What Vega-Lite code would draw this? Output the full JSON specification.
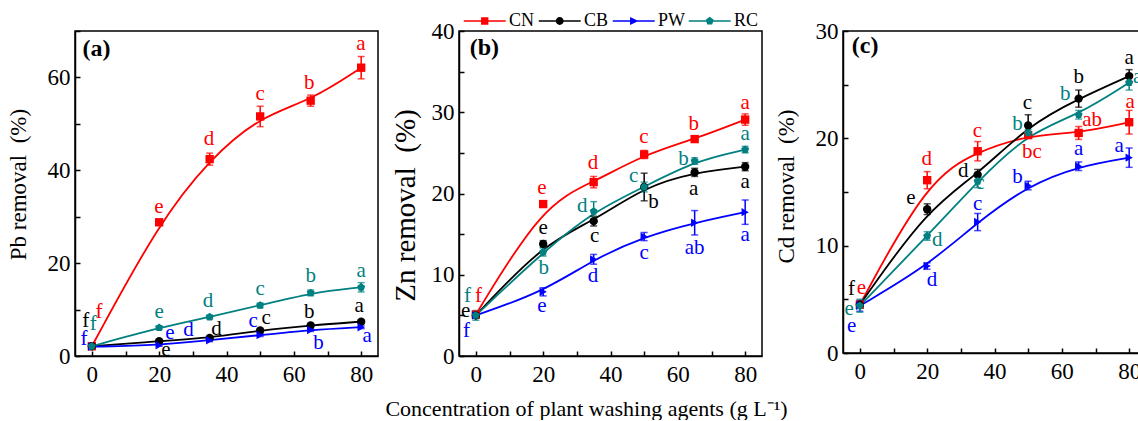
{
  "$schema": "https://vega.github.io/schema/vega-lite/v6.json",
  "padding": {"left": 6, "top": 11, "right": 0, "bottom": 0},
  "background": "white",
  "title": {"text": "Concentration of plant washing agents (g L⁻¹)", "orient": "bottom", "anchor": "middle", "font": "Liberation Serif", "fontSize": 22, "fontWeight": "normal", "color": "black", "offset": 12, "dx": 10},
  "datasets": {
    "pts": [
      {"panel": "a", "series": "CN", "conc": 0, "val": 2.1, "err": 0.3},
      {"panel": "a", "series": "CN", "conc": 20, "val": 28.8, "err": 0.6},
      {"panel": "a", "series": "CN", "conc": 35, "val": 42.4, "err": 1.3},
      {"panel": "a", "series": "CN", "conc": 50, "val": 51.6, "err": 2.2},
      {"panel": "a", "series": "CN", "conc": 65, "val": 55.0, "err": 1.2},
      {"panel": "a", "series": "CN", "conc": 80, "val": 62.1, "err": 2.4},
      {"panel": "a", "series": "CB", "conc": 0, "val": 2.1, "err": 0.2},
      {"panel": "a", "series": "CB", "conc": 20, "val": 3.2, "err": 0.3},
      {"panel": "a", "series": "CB", "conc": 35, "val": 3.9, "err": 0.3},
      {"panel": "a", "series": "CB", "conc": 50, "val": 5.5, "err": 0.3},
      {"panel": "a", "series": "CB", "conc": 65, "val": 6.6, "err": 0.4},
      {"panel": "a", "series": "CB", "conc": 80, "val": 7.4, "err": 0.4},
      {"panel": "a", "series": "PW", "conc": 0, "val": 2.0, "err": 0.2},
      {"panel": "a", "series": "PW", "conc": 20, "val": 2.3, "err": 0.2},
      {"panel": "a", "series": "PW", "conc": 35, "val": 3.4, "err": 0.3},
      {"panel": "a", "series": "PW", "conc": 50, "val": 4.5, "err": 0.3},
      {"panel": "a", "series": "PW", "conc": 65, "val": 5.6, "err": 0.3},
      {"panel": "a", "series": "PW", "conc": 80, "val": 6.2, "err": 0.3},
      {"panel": "a", "series": "RC", "conc": 0, "val": 2.1, "err": 0.3},
      {"panel": "a", "series": "RC", "conc": 20, "val": 6.1, "err": 0.4},
      {"panel": "a", "series": "RC", "conc": 35, "val": 8.4, "err": 0.4},
      {"panel": "a", "series": "RC", "conc": 50, "val": 10.9, "err": 0.5},
      {"panel": "a", "series": "RC", "conc": 65, "val": 13.6, "err": 0.6},
      {"panel": "a", "series": "RC", "conc": 80, "val": 14.8, "err": 1.0},
      {"panel": "b", "series": "CN", "conc": 0, "val": 5.1, "err": 0.3},
      {"panel": "b", "series": "CN", "conc": 20, "val": 18.7, "err": 0.4},
      {"panel": "b", "series": "CN", "conc": 35, "val": 21.4, "err": 0.7},
      {"panel": "b", "series": "CN", "conc": 50, "val": 24.8, "err": 0.5},
      {"panel": "b", "series": "CN", "conc": 65, "val": 26.7, "err": 0.4},
      {"panel": "b", "series": "CN", "conc": 80, "val": 29.1, "err": 0.7},
      {"panel": "b", "series": "CB", "conc": 0, "val": 5.0, "err": 0.3},
      {"panel": "b", "series": "CB", "conc": 20, "val": 13.8, "err": 0.4},
      {"panel": "b", "series": "CB", "conc": 35, "val": 16.6, "err": 0.6},
      {"panel": "b", "series": "CB", "conc": 50, "val": 20.8, "err": 1.7},
      {"panel": "b", "series": "CB", "conc": 65, "val": 22.6, "err": 0.5},
      {"panel": "b", "series": "CB", "conc": 80, "val": 23.3, "err": 0.5},
      {"panel": "b", "series": "PW", "conc": 0, "val": 5.0, "err": 0.3},
      {"panel": "b", "series": "PW", "conc": 20, "val": 7.9, "err": 0.5},
      {"panel": "b", "series": "PW", "conc": 35, "val": 11.9, "err": 0.6},
      {"panel": "b", "series": "PW", "conc": 50, "val": 14.7, "err": 0.5},
      {"panel": "b", "series": "PW", "conc": 65, "val": 16.4, "err": 1.5},
      {"panel": "b", "series": "PW", "conc": 80, "val": 17.7, "err": 1.5},
      {"panel": "b", "series": "RC", "conc": 0, "val": 5.0, "err": 0.6},
      {"panel": "b", "series": "RC", "conc": 20, "val": 12.8, "err": 0.5},
      {"panel": "b", "series": "RC", "conc": 35, "val": 17.8, "err": 1.2},
      {"panel": "b", "series": "RC", "conc": 50, "val": 20.8, "err": 0.6},
      {"panel": "b", "series": "RC", "conc": 65, "val": 24.0, "err": 0.4},
      {"panel": "b", "series": "RC", "conc": 80, "val": 25.4, "err": 0.4},
      {"panel": "c", "series": "CN", "conc": 0, "val": 4.5, "err": 0.3},
      {"panel": "c", "series": "CN", "conc": 20, "val": 16.1, "err": 0.8},
      {"panel": "c", "series": "CN", "conc": 35, "val": 18.8, "err": 0.9},
      {"panel": "c", "series": "CN", "conc": 50, "val": 20.3, "err": 0.3},
      {"panel": "c", "series": "CN", "conc": 65, "val": 20.5, "err": 0.6},
      {"panel": "c", "series": "CN", "conc": 80, "val": 21.5, "err": 1.1},
      {"panel": "c", "series": "CB", "conc": 0, "val": 4.5, "err": 0.3},
      {"panel": "c", "series": "CB", "conc": 20, "val": 13.4, "err": 0.5},
      {"panel": "c", "series": "CB", "conc": 35, "val": 16.6, "err": 0.5},
      {"panel": "c", "series": "CB", "conc": 50, "val": 21.2, "err": 1.0},
      {"panel": "c", "series": "CB", "conc": 65, "val": 23.7, "err": 0.8},
      {"panel": "c", "series": "CB", "conc": 80, "val": 25.8, "err": 0.6},
      {"panel": "c", "series": "PW", "conc": 0, "val": 4.4, "err": 0.5},
      {"panel": "c", "series": "PW", "conc": 20, "val": 8.1, "err": 0.3},
      {"panel": "c", "series": "PW", "conc": 35, "val": 12.2, "err": 0.8},
      {"panel": "c", "series": "PW", "conc": 50, "val": 15.6, "err": 0.4},
      {"panel": "c", "series": "PW", "conc": 65, "val": 17.4, "err": 0.4},
      {"panel": "c", "series": "PW", "conc": 80, "val": 18.2, "err": 0.9},
      {"panel": "c", "series": "RC", "conc": 0, "val": 4.4, "err": 0.6},
      {"panel": "c", "series": "RC", "conc": 20, "val": 10.9, "err": 0.4},
      {"panel": "c", "series": "RC", "conc": 35, "val": 16.0, "err": 0.6},
      {"panel": "c", "series": "RC", "conc": 50, "val": 20.5, "err": 0.3},
      {"panel": "c", "series": "RC", "conc": 65, "val": 22.2, "err": 0.4},
      {"panel": "c", "series": "RC", "conc": 80, "val": 25.2, "err": 0.7}
    ],
    "lbl": [
      {"panel": "a", "series": "CN", "conc": 2.1, "val": 9.4, "t": "f"},
      {"panel": "a", "series": "CN", "conc": 19.9, "val": 32.0, "t": "e"},
      {"panel": "a", "series": "CN", "conc": 34.8, "val": 46.7, "t": "d"},
      {"panel": "a", "series": "CN", "conc": 50.0, "val": 56.4, "t": "c"},
      {"panel": "a", "series": "CN", "conc": 64.6, "val": 58.9, "t": "b"},
      {"panel": "a", "series": "CN", "conc": 79.9, "val": 67.2, "t": "a"},
      {"panel": "a", "series": "RC", "conc": 0.4, "val": 6.9, "t": "f"},
      {"panel": "a", "series": "RC", "conc": 20.0, "val": 9.4, "t": "e"},
      {"panel": "a", "series": "RC", "conc": 34.5, "val": 11.9, "t": "d"},
      {"panel": "a", "series": "RC", "conc": 50.0, "val": 14.4, "t": "c"},
      {"panel": "a", "series": "RC", "conc": 65.0, "val": 17.3, "t": "b"},
      {"panel": "a", "series": "RC", "conc": 80.0, "val": 18.4, "t": "a"},
      {"panel": "a", "series": "CB", "conc": -1.8, "val": 7.6, "t": "f"},
      {"panel": "a", "series": "CB", "conc": 22.0, "val": 1.2, "t": "e"},
      {"panel": "a", "series": "CB", "conc": 37.0, "val": 5.8, "t": "d"},
      {"panel": "a", "series": "CB", "conc": 51.8, "val": 8.1, "t": "c"},
      {"panel": "a", "series": "CB", "conc": 64.6, "val": 9.4, "t": "b"},
      {"panel": "a", "series": "CB", "conc": 79.4, "val": 10.8, "t": "a"},
      {"panel": "a", "series": "PW", "conc": -2.3, "val": 3.7, "t": "f"},
      {"panel": "a", "series": "PW", "conc": 23.2, "val": 5.0, "t": "e"},
      {"panel": "a", "series": "PW", "conc": 28.7, "val": 5.5, "t": "d"},
      {"panel": "a", "series": "PW", "conc": 47.9, "val": 7.6, "t": "c"},
      {"panel": "a", "series": "PW", "conc": 67.3, "val": 2.9, "t": "b"},
      {"panel": "a", "series": "PW", "conc": 81.8, "val": 4.4, "t": "a"},
      {"panel": "b", "series": "CN", "conc": 0.8, "val": 7.4, "t": "f"},
      {"panel": "b", "series": "CN", "conc": 19.6, "val": 20.7, "t": "e"},
      {"panel": "b", "series": "CN", "conc": 34.8, "val": 23.8, "t": "d"},
      {"panel": "b", "series": "CN", "conc": 49.9, "val": 26.9, "t": "c"},
      {"panel": "b", "series": "CN", "conc": 64.7, "val": 28.5, "t": "b"},
      {"panel": "b", "series": "CN", "conc": 80.0, "val": 31.1, "t": "a"},
      {"panel": "b", "series": "RC", "conc": -2.5, "val": 7.4, "t": "f"},
      {"panel": "b", "series": "RC", "conc": 20.2, "val": 10.8, "t": "b"},
      {"panel": "b", "series": "RC", "conc": 31.6, "val": 18.5, "t": "d"},
      {"panel": "b", "series": "RC", "conc": 46.9, "val": 22.2, "t": "c"},
      {"panel": "b", "series": "RC", "conc": 61.7, "val": 24.2, "t": "b"},
      {"panel": "b", "series": "RC", "conc": 80.0, "val": 27.3, "t": "a"},
      {"panel": "b", "series": "CB", "conc": -3.0, "val": 5.5, "t": "e"},
      {"panel": "b", "series": "CB", "conc": 20.0, "val": 15.8, "t": "e"},
      {"panel": "b", "series": "CB", "conc": 35.3, "val": 14.8, "t": "c"},
      {"panel": "b", "series": "CB", "conc": 52.8, "val": 18.9, "t": "b"},
      {"panel": "b", "series": "CB", "conc": 64.7, "val": 20.5, "t": "a"},
      {"panel": "b", "series": "CB", "conc": 80.0, "val": 21.4, "t": "a"},
      {"panel": "b", "series": "PW", "conc": -2.8, "val": 3.1, "t": "f"},
      {"panel": "b", "series": "PW", "conc": 19.6, "val": 6.2, "t": "e"},
      {"panel": "b", "series": "PW", "conc": 34.8, "val": 9.8, "t": "d"},
      {"panel": "b", "series": "PW", "conc": 50.0, "val": 12.7, "t": "c"},
      {"panel": "b", "series": "PW", "conc": 65.0, "val": 13.3, "t": "ab"},
      {"panel": "b", "series": "PW", "conc": 80.0, "val": 14.9, "t": "a"},
      {"panel": "c", "series": "CN", "conc": 0.5, "val": 6.1, "t": "e"},
      {"panel": "c", "series": "CN", "conc": 19.9, "val": 18.1, "t": "d"},
      {"panel": "c", "series": "CN", "conc": 34.9, "val": 20.7, "t": "c"},
      {"panel": "c", "series": "CN", "conc": 51.1, "val": 18.7, "t": "bc"},
      {"panel": "c", "series": "CN", "conc": 69.0, "val": 21.7, "t": "ab"},
      {"panel": "c", "series": "CN", "conc": 80.3, "val": 23.4, "t": "a"},
      {"panel": "c", "series": "CB", "conc": -2.5, "val": 6.0, "t": "f"},
      {"panel": "c", "series": "CB", "conc": 15.2, "val": 14.4, "t": "e"},
      {"panel": "c", "series": "CB", "conc": 30.7, "val": 17.0, "t": "d"},
      {"panel": "c", "series": "CB", "conc": 49.8, "val": 23.3, "t": "c"},
      {"panel": "c", "series": "CB", "conc": 65.0, "val": 25.7, "t": "b"},
      {"panel": "c", "series": "CB", "conc": 80.0, "val": 27.5, "t": "a"},
      {"panel": "c", "series": "RC", "conc": -3.2, "val": 4.1, "t": "e"},
      {"panel": "c", "series": "RC", "conc": 23.0, "val": 10.5, "t": "d"},
      {"panel": "c", "series": "RC", "conc": 35.7, "val": 15.8, "t": "c"},
      {"panel": "c", "series": "RC", "conc": 46.8, "val": 21.3, "t": "b"},
      {"panel": "c", "series": "RC", "conc": 61.0, "val": 24.1, "t": "b"},
      {"panel": "c", "series": "RC", "conc": 82.5, "val": 25.7, "t": "a"},
      {"panel": "c", "series": "PW", "conc": -2.4, "val": 2.5, "t": "e"},
      {"panel": "c", "series": "PW", "conc": 21.4, "val": 6.8, "t": "d"},
      {"panel": "c", "series": "PW", "conc": 35.0, "val": 13.9, "t": "c"},
      {"panel": "c", "series": "PW", "conc": 46.8, "val": 16.4, "t": "b"},
      {"panel": "c", "series": "PW", "conc": 65.0, "val": 19.0, "t": "a"},
      {"panel": "c", "series": "PW", "conc": 77.0, "val": 19.3, "t": "a"}
    ]
  },
  "spacing": 81,
  "bounds": "flush",
  "resolve": {"scale": {"y": "independent", "x": "independent", "color": "independent", "shape": "independent"}, "legend": {"color": "independent", "shape": "independent"}},
  "hconcat": [
    {
      "width": 303, "height": 325,
      "encoding": {
        "x": {"field": "conc", "type": "quantitative", "scale": {"domain": [-5, 85], "nice": false, "zero": false}, "axis": {"title": null, "values": [0, 10, 20, 30, 40, 50, 60, 70, 80], "labelExpr": "datum.value % 20 === 0 ? datum.label : ''", "labelPadding": 12}},
        "y": {"field": "val", "type": "quantitative", "scale": {"domain": [0, 70], "nice": false}, "axis": {"title": "Pb removal \u00a0(%)", "titleFontSize": 23, "titleY": 153, "values": [0, 10, 20, 30, 40, 50, 60, 70], "labelExpr": "datum.value % 20 === 0 ? datum.label : ''"}},
        "color": {"field": "series", "type": "nominal", "scale": {"domain": ["CN", "CB", "PW", "RC"], "range": ["#ff0000", "#000000", "#0000ff", "#008080"]}, "legend": null}
      },
      "layer": [
        {"data": {"name": "pts"}, "transform": [{"filter": "datum.panel === 'a'"}], "mark": {"type": "line", "interpolate": "basis", "strokeWidth": 1.8}},
        {"data": {"name": "pts"}, "transform": [{"filter": "datum.panel === 'a'"}], "mark": {"type": "errorbar", "ticks": true, "size": 7, "thickness": 1.5}, "encoding": {"yError": {"field": "err"}}},
        {"data": {"name": "pts"}, "transform": [{"filter": "datum.panel === 'a'"}], "mark": {"type": "point", "filled": true, "opacity": 1, "size": 70}, "encoding": {"shape": {"field": "series", "type": "nominal", "scale": {"domain": ["CN", "CB", "PW", "RC"], "range": ["square", "circle", "triangle-right", "M0,-1L0.951,-0.309L0.588,0.809L-0.588,0.809L-0.951,-0.309Z"]}, "legend": null}}},
        {"data": {"name": "lbl"}, "transform": [{"filter": "datum.panel === 'a'"}], "mark": {"type": "text", "font": "Liberation Serif", "fontSize": 21, "baseline": "middle", "align": "center"}, "encoding": {"text": {"field": "t"}}},
        {"data": {"values": [{"conc": -2.8, "val": 66.1, "t": "(a)"}]}, "mark": {"type": "text", "font": "Liberation Serif", "fontSize": 24, "fontWeight": "bold", "baseline": "middle", "align": "left"}, "encoding": {"text": {"field": "t"}, "color": {"value": "black"}}}
      ]
    },
    {
      "width": 303, "height": 325,
      "encoding": {
        "x": {"field": "conc", "type": "quantitative", "scale": {"domain": [-5, 85], "nice": false, "zero": false}, "axis": {"title": null, "values": [0, 10, 20, 30, 40, 50, 60, 70, 80], "labelExpr": "datum.value % 20 === 0 ? datum.label : ''", "labelPadding": 12}},
        "y": {"field": "val", "type": "quantitative", "scale": {"domain": [0, 40], "nice": false}, "axis": {"title": "Zn removal \u00a0(%)", "titleFontSize": 29, "titlePadding": 11, "titleY": 174, "values": [0, 5, 10, 15, 20, 25, 30, 35, 40], "labelExpr": "datum.value % 10 === 0 ? datum.label : ''"}},
        "color": {"field": "series", "type": "nominal", "scale": {"domain": ["CN", "CB", "PW", "RC"], "range": ["#ff0000", "#000000", "#0000ff", "#008080"]}, "legend": null}
      },
      "resolve": {"scale": {"shape": "independent", "color": "independent"}},
      "layer": [
        {"data": {"name": "pts"}, "transform": [{"filter": "datum.panel === 'b'"}], "mark": {"type": "line", "interpolate": "basis", "strokeWidth": 1.8}},
        {"data": {"name": "pts"}, "transform": [{"filter": "datum.panel === 'b'"}], "mark": {"type": "errorbar", "ticks": true, "size": 7, "thickness": 1.5}, "encoding": {"yError": {"field": "err"}}},
        {"data": {"name": "pts"}, "transform": [{"filter": "datum.panel === 'b'"}], "mark": {"type": "point", "filled": true, "opacity": 1, "size": 70}, "encoding": {"shape": {"field": "series", "type": "nominal", "scale": {"domain": ["CN", "CB", "PW", "RC"], "range": ["square", "circle", "triangle-right", "M0,-1L0.951,-0.309L0.588,0.809L-0.588,0.809L-0.951,-0.309Z"]}, "legend": null}}},
        {"data": {"name": "pts"}, "transform": [{"filter": "datum.panel === 'b' && datum.conc < 0"}], "mark": {"type": "point", "filled": true, "opacity": 1, "size": 110},
         "encoding": {
           "color": {"field": "series", "type": "nominal", "scale": {"domain": ["CN", "CB", "PW", "RC"], "range": ["#ff0000", "#000000", "#0000ff", "#008080"]},
             "legend": {"orient": "none", "legendX": 1, "legendY": -19, "direction": "horizontal", "title": null, "padding": 0, "labelFont": "Liberation Serif", "labelFontSize": 18, "labelColor": "black", "symbolSize": 110, "symbolStrokeWidth": 0, "labelOffset": 31, "columnPadding": 0}},
           "shape": {"field": "series", "type": "nominal", "scale": {"domain": ["CN", "CB", "PW", "RC"], "range": [
               "M-1,-0.14H7V0.14H-1Z M2.3,-0.7H3.7V0.7H2.3Z",
               "M-1,-0.14H7V0.14H-1Z M3.75,0A0.75,0.75 0 1,1 2.25,0A0.75,0.75 0 1,1 3.75,0Z",
               "M-1,-0.14H7V0.14H-1Z M2.3,-0.78L3.9,0L2.3,0.78Z",
               "M-1,-0.14H7V0.14H-1Z M3,-0.8L3.76,-0.25L3.47,0.65L2.53,0.65L2.24,-0.25Z"]},
             "legend": {"orient": "none", "legendX": 1, "legendY": -19, "direction": "horizontal", "title": null, "padding": 0, "labelFont": "Liberation Serif", "labelFontSize": 18, "labelColor": "black", "symbolSize": 110, "symbolStrokeWidth": 0, "labelOffset": 31, "columnPadding": 0}}
         }},
        {"data": {"name": "lbl"}, "transform": [{"filter": "datum.panel === 'b'"}], "mark": {"type": "text", "font": "Liberation Serif", "fontSize": 21, "baseline": "middle", "align": "center"}, "encoding": {"text": {"field": "t"}}},
        {"data": {"values": [{"conc": -1.8, "val": 37.9, "t": "(b)"}]}, "mark": {"type": "text", "font": "Liberation Serif", "fontSize": 24, "fontWeight": "bold", "baseline": "middle", "align": "left"}, "encoding": {"text": {"field": "t"}, "color": {"value": "black"}}}
      ]
    },
    {
      "width": 303, "height": 322,
      "encoding": {
        "x": {"field": "conc", "type": "quantitative", "scale": {"domain": [-5, 85], "nice": false, "zero": false}, "axis": {"title": null, "values": [0, 10, 20, 30, 40, 50, 60, 70, 80], "labelExpr": "datum.value % 20 === 0 ? datum.label : ''", "labelPadding": 12}},
        "y": {"field": "val", "type": "quantitative", "scale": {"domain": [0, 30], "nice": false}, "axis": {"title": "Cd removal \u00a0(%)", "titleFontSize": 23, "titleY": 155, "values": [0, 5, 10, 15, 20, 25, 30], "labelExpr": "datum.value % 10 === 0 ? datum.label : ''"}},
        "color": {"field": "series", "type": "nominal", "scale": {"domain": ["CN", "CB", "PW", "RC"], "range": ["#ff0000", "#000000", "#0000ff", "#008080"]}, "legend": null}
      },
      "layer": [
        {"data": {"name": "pts"}, "transform": [{"filter": "datum.panel === 'c'"}], "mark": {"type": "line", "interpolate": "basis", "strokeWidth": 1.8}},
        {"data": {"name": "pts"}, "transform": [{"filter": "datum.panel === 'c'"}], "mark": {"type": "errorbar", "ticks": true, "size": 7, "thickness": 1.5}, "encoding": {"yError": {"field": "err"}}},
        {"data": {"name": "pts"}, "transform": [{"filter": "datum.panel === 'c'"}], "mark": {"type": "point", "filled": true, "opacity": 1, "size": 70}, "encoding": {"shape": {"field": "series", "type": "nominal", "scale": {"domain": ["CN", "CB", "PW", "RC"], "range": ["square", "circle", "triangle-right", "M0,-1L0.951,-0.309L0.588,0.809L-0.588,0.809L-0.951,-0.309Z"]}, "legend": null}}},
        {"data": {"name": "lbl"}, "transform": [{"filter": "datum.panel === 'c'"}], "mark": {"type": "text", "font": "Liberation Serif", "fontSize": 21, "baseline": "middle", "align": "center"}, "encoding": {"text": {"field": "t"}}},
        {"data": {"values": [{"conc": -2.4, "val": 28.6, "t": "(c)"}]}, "mark": {"type": "text", "font": "Liberation Serif", "fontSize": 24, "fontWeight": "bold", "baseline": "middle", "align": "left"}, "encoding": {"text": {"field": "t"}, "color": {"value": "black"}}}
      ]
    }
  ],
  "config": {
    "font": "Liberation Serif",
    "view": {"stroke": "black", "strokeWidth": 1.5},
    "axis": {"domainColor": "black", "domainWidth": 1.5, "tickColor": "black", "tickWidth": 1.5, "tickSize": -5, "labelFont": "Liberation Serif", "labelFontSize": 23, "labelColor": "black", "titleFont": "Liberation Serif", "titleFontWeight": "normal", "titleColor": "black", "grid": false, "labelPadding": 10, "titlePadding": 17, "labelOverlap": false}
  }
}
